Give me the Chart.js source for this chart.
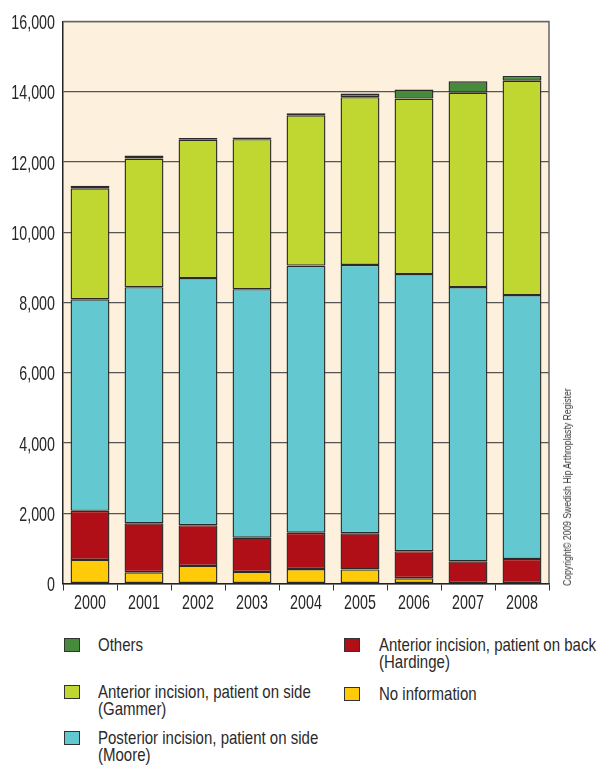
<!DOCTYPE html>
<html>
<head>
<meta charset="utf-8">
<script src="https://cdn.jsdelivr.net/npm/chart.js@4"></script>
<style>
  html, body { margin: 0; padding: 0; background: #fff; }
  body { width: 600px; height: 767px; position: relative; overflow: hidden;
         font-family: "Liberation Sans", Arial, sans-serif; color: #2a2a2a; }
  #wrap { position: absolute; left: 0; top: 0; width: 600px; height: 625px; }
  .copy { position: absolute; left: 567px; top: 487px; white-space: nowrap; font-size: 11.5px;
          transform: translate(-50%, -50%) rotate(-90deg) scaleX(0.75); color: #333; }
  .leg { position: absolute; font-size: 19px; line-height: 17px; white-space: nowrap; }
  .leg .sw { position: absolute; width: 14px; height: 12px; border: 1px solid #333; }
  .leg .txt { transform: scaleX(0.79); transform-origin: 0 0; }
</style>
</head>
<body>
<div id="wrap"><canvas id="grafico" width="600" height="625"></canvas></div>
<div class="copy">Copyright© 2009 Swedish Hip Arthroplasty Register</div>
<div id="legenda"></div>
<script>
// anos e séries (empilhadas de baixo para cima)
const anos = ["2000", "2001", "2002", "2003", "2004", "2005", "2006", "2007", "2008"];
const semInfo = [670, 320, 500, 330, 410, 400, 150, 15, 15];
const hardinge = [1400, 1395, 1160, 975, 1035, 1030, 770, 615, 685];
const moore = [6020, 6720, 7035, 7075, 7605, 7640, 7890, 7810, 7510];
const gammer = [3160, 3665, 3940, 4270, 4280, 4775, 4995, 5535, 6105];
const outros = [75, 85, 48, 47, 57, 103, 256, 324, 134];
const yTicks = [0, 2000, 4000, 6000, 8000, 10000, 12000, 14000, 16000];

const series = [
  { label: "No information", data: semInfo, cor: "#ffca08" },
  { label: "Anterior incision, patient on back\n(Hardinge)", data: hardinge, cor: "#b00f17" },
  { label: "Posterior incision, patient on side\n(Moore)", data: moore, cor: "#63c8d0" },
  { label: "Anterior incision, patient on side\n(Gammer)", data: gammer, cor: "#bfd730" },
  { label: "Others", data: outros, cor: "#468a3c" }
];

const FONTE = '21px "Liberation Sans", Arial, sans-serif';
const ESTREITO = 0.68; // fonte condensada: encolhe o texto na horizontal

// fundo creme, moldura e rótulos dos eixos (texto estreito)
const fundo = {
  id: "fundo",
  beforeDraw(chart) {
    const { ctx, chartArea: a } = chart;
    ctx.save();
    ctx.fillStyle = "#fdf0dc";
    ctx.fillRect(a.left, a.top, a.right - a.left, a.bottom - a.top);
    ctx.restore();
  },
  afterDraw(chart) {
    const { ctx, chartArea: a } = chart;
    ctx.save();
    ctx.strokeStyle = "#666";
    ctx.lineWidth = 1.5;
    ctx.beginPath();
    ctx.moveTo(a.left, a.top);
    ctx.lineTo(a.right, a.top);
    ctx.lineTo(a.right, a.bottom);
    ctx.stroke();

    ctx.font = FONTE;
    ctx.fillStyle = "#262626";
    ctx.textBaseline = "alphabetic";

    const sx = chart.scales.x;
    ctx.textAlign = "center";
    sx.ticks.forEach((t, i) => {
      ctx.save();
      ctx.translate(sx.getPixelForTick(i), a.bottom + 25);
      ctx.scale(ESTREITO, 1);
      ctx.fillText(anos[i], 0, 0);
      ctx.restore();
    });

    const sy = chart.scales.y;
    ctx.textAlign = "right";
    sy.ticks.forEach((t) => {
      ctx.save();
      ctx.translate(a.left - 8, sy.getPixelForValue(t.value) + 7.5);
      ctx.scale(ESTREITO, 1);
      ctx.fillText(Number(t.value).toLocaleString("en-US"), 0, 0);
      ctx.restore();
    });
    ctx.restore();
  }
};

new Chart(document.getElementById("grafico"), {
  type: "bar",
  data: {
    labels: anos,
    datasets: series.map((s) => ({
      label: s.label,
      data: s.data,
      backgroundColor: s.cor,
      borderColor: "#2a2a2a",
      borderWidth: 1.4,
      borderSkipped: false,
      categoryPercentage: 1,
      barPercentage: 0.72
    }))
  },
  options: {
    responsive: false,
    animation: false,
    layout: { padding: { top: 21.5, right: 51, left: 0, bottom: 0 } },
    plugins: { legend: { display: false }, tooltip: { enabled: false } },
    scales: {
      x: {
        stacked: true,
        grid: { drawOnChartArea: false, drawTicks: true, tickLength: 7, color: "#333", offset: true },
        border: { color: "#222", width: 1.5 },
        ticks: { display: false },
        afterFit: (s) => { s.height = 625 - 583.5; }
      },
      y: {
        stacked: true,
        min: 0,
        max: 16000,
        afterBuildTicks: (s) => { s.ticks = yTicks.map((v) => ({ value: v })); },
        grid: { drawTicks: false, color: "#555", lineWidth: 1.2 },
        border: { color: "#222", width: 1.5 },
        ticks: { display: false },
        afterFit: (s) => { s.width = 63; }
      }
    }
  },
  plugins: [fundo]
});

// legenda em duas colunas
const posLegenda = [
  { i: 4, x: 64, y: 636 },
  { i: 3, x: 64, y: 683 },
  { i: 2, x: 64, y: 729 },
  { i: 1, x: 344, y: 636 },
  { i: 0, x: 344, y: 685 }
];
const legenda = document.getElementById("legenda");
posLegenda.forEach((p) => {
  const s = series[p.i];
  const el = document.createElement("div");
  el.className = "leg";
  el.style.left = p.x + "px";
  el.style.top = p.y + "px";
  el.innerHTML = `<span class="sw" style="left:0;top:2px;background:${s.cor}"></span>
    <div class="txt" style="margin-left:${p.x < 300 ? 34 : 35}px">${s.label.replace("\n", "<br>")}</div>`;
  legenda.appendChild(el);
});
</script>
</body>
</html>
